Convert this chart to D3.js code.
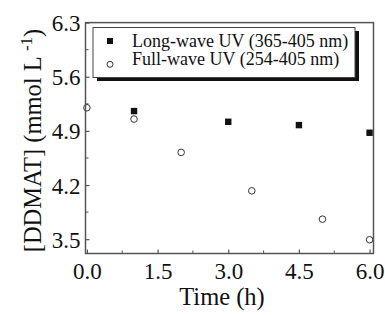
<!DOCTYPE html>
<html><head><meta charset="utf-8">
<script src="https://cdn.jsdelivr.net/npm/d3@7"></script>
<style>body{margin:0;background:#fff}svg{display:block}text{font-family:"Liberation Serif","Times New Roman",serif;fill:#111}</style>
</head><body><svg id="c" width="385" height="315"></svg>
<script>
const longTime = [1, 3, 4.5, 6];
const longValue = [5.156, 5.018, 4.975, 4.876];
const fullTime = [0, 1, 2, 3.5, 5, 6];
const fullValue = [5.199, 5.053, 4.622, 4.125, 3.759, 3.493];
const xTicks = [0, 1.5, 3.0, 4.5, 6.0];
const yTicks = [3.5, 4.2, 4.9, 5.6, 6.3];
const legendLabels = ["Long-wave UV (365-405 nm)", "Full-wave UV (254-405 nm)"];

const svg = d3.select("#c");
const L = 85.5, R = 373.5, T = 22.6, B = 253.5;
const x = d3.scaleLinear().domain([-0.03, 6.083]).range([L, R]);
const y = d3.scaleLinear().domain([3.315, 6.3]).range([B, T]);
const frameColor = "#555";

// minor ticks
const xMinor = d3.range(0.75, 6.0, 1.5);
const yMinor = d3.range(3.85, 6.3, 0.7);
svg.append("g").selectAll("line").data(xMinor).join("line")
  .attr("x1", d => x(d)).attr("x2", d => x(d)).attr("y1", B).attr("y2", B - 3)
  .attr("stroke", frameColor).attr("stroke-width", 1);
svg.append("g").selectAll("line").data(yMinor).join("line")
  .attr("y1", d => y(d)).attr("y2", d => y(d)).attr("x1", L).attr("x2", L + 3)
  .attr("stroke", frameColor).attr("stroke-width", 1);

const xAxis = svg.append("g").attr("transform", `translate(0,${B})`)
  .call(d3.axisBottom(x).tickValues(xTicks).tickFormat(d3.format(".1f")).tickSizeInner(-4).tickSizeOuter(0).tickPadding(9));
xAxis.select(".domain").remove();
xAxis.selectAll(".tick line").attr("stroke", frameColor).attr("stroke-width", 1.2);
xAxis.selectAll(".tick text").attr("font-size", 23).attr("font-family", "Liberation Serif").attr("fill", "#111").attr("dy", "0.72em");

const yAxis = svg.append("g").attr("transform", `translate(${L},0)`)
  .call(d3.axisLeft(y).tickValues(yTicks).tickFormat(d3.format(".1f")).tickSizeInner(-4).tickSizeOuter(0).tickPadding(9));
yAxis.select(".domain").remove();
yAxis.selectAll(".tick line").attr("stroke", frameColor).attr("stroke-width", 1.2);
yAxis.selectAll(".tick text").attr("font-size", 23).attr("font-family", "Liberation Serif").attr("fill", "#111").attr("x", -5).attr("dy", "0.35em");

// data points
svg.append("g").selectAll("circle").data(fullTime.map((t, i) => [t, fullValue[i]])).join("circle")
  .attr("cx", d => x(d[0])).attr("cy", d => y(d[1])).attr("r", 3.3)
  .attr("fill", "none").attr("stroke", "#333").attr("stroke-width", 1);
svg.append("g").selectAll("rect").data(longTime.map((t, i) => [t, longValue[i]])).join("rect")
  .attr("x", d => x(d[0]) - 3.2).attr("y", d => y(d[1]) - 3.2).attr("width", 6.4).attr("height", 6.4)
  .attr("fill", "#111");

// frame
svg.append("rect").attr("x", L).attr("y", T).attr("width", R - L).attr("height", B - T)
  .attr("fill", "none").attr("stroke", frameColor).attr("stroke-width", 1.5);

// legend
const lg = svg.append("g");
lg.append("rect").attr("x", 97).attr("y", 31).attr("width", 262).attr("height", 50).attr("fill", "#111");
lg.append("rect").attr("x", 93).attr("y", 27.5).attr("width", 262).attr("height", 50)
  .attr("fill", "#fff").attr("stroke", "#444").attr("stroke-width", 1);
lg.append("rect").attr("x", 107).attr("y", 38).attr("width", 6).attr("height", 6).attr("fill", "#111");
lg.append("circle").attr("cx", 110).attr("cy", 64.3).attr("r", 3).attr("fill", "none").attr("stroke", "#333").attr("stroke-width", 1);
lg.selectAll("text.leg").data(legendLabels).join("text").attr("class", "leg")
  .attr("x", 132).attr("y", (d, i) => 47 + i * 18.3).attr("font-size", 18).text(d => d);

// axis titles
svg.append("text").attr("x", 222).attr("y", 305).attr("text-anchor", "middle").attr("font-size", 24.5).text("Time (h)");
const yt = svg.append("text").attr("transform", "translate(41,140.5) rotate(-90)").attr("text-anchor", "middle").attr("font-size", 24.5);
yt.append("tspan").text("[DDMAT] (mmol L ");
yt.append("tspan").attr("font-size", 17).attr("dy", -9).text("-1");
yt.append("tspan").attr("dy", 9).text(")");
</script></body></html>
